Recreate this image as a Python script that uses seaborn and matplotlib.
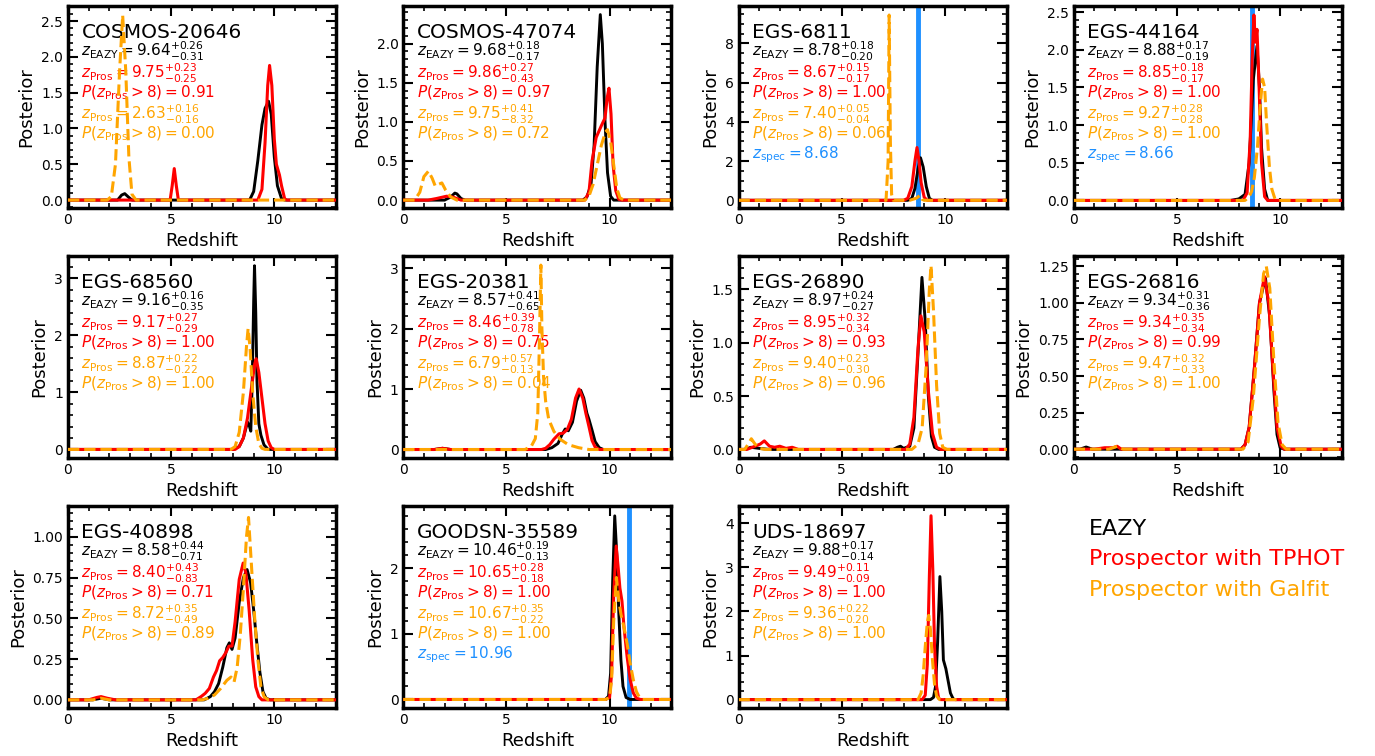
import matplotlib
matplotlib.use("Agg")
import matplotlib.pyplot as plt
from matplotlib.ticker import MultipleLocator, AutoMinorLocator
import pandas as pd
import seaborn as sns

# -- per-object summary numbers --
names = ["COSMOS-20646", "COSMOS-47074", "EGS-6811", "EGS-44164",
         "EGS-68560", "EGS-20381", "EGS-26890", "EGS-26816",
         "EGS-40898", "GOODSN-35589", "UDS-18697"]
eazy_z = [9.64, 9.68, 8.78, 8.88, 9.16, 8.57, 8.97, 9.34, 8.58, 10.46, 9.88]
eazy_up = [0.26, 0.18, 0.18, 0.17, 0.16, 0.41, 0.24, 0.31, 0.44, 0.19, 0.17]
eazy_lo = [0.31, 0.17, 0.20, 0.19, 0.35, 0.65, 0.27, 0.36, 0.71, 0.13, 0.14]
tphot_z = [9.75, 9.86, 8.67, 8.85, 9.17, 8.46, 8.95, 9.34, 8.40, 10.65, 9.49]
tphot_up = [0.23, 0.27, 0.15, 0.18, 0.27, 0.39, 0.32, 0.35, 0.43, 0.28, 0.11]
tphot_lo = [0.25, 0.43, 0.17, 0.17, 0.29, 0.78, 0.34, 0.34, 0.83, 0.18, 0.09]
tphot_p8 = [0.91, 0.97, 1.00, 1.00, 1.00, 0.75, 0.93, 0.99, 0.71, 1.00, 1.00]
galfit_z = [2.63, 9.75, 7.40, 9.27, 8.87, 6.79, 9.40, 9.47, 8.72, 10.67, 9.36]
galfit_up = [0.16, 0.41, 0.05, 0.28, 0.22, 0.57, 0.23, 0.32, 0.35, 0.35, 0.22]
galfit_lo = [0.16, 8.32, 0.04, 0.28, 0.22, 0.13, 0.30, 0.33, 0.49, 0.22, 0.20]
galfit_p8 = [0.00, 0.72, 0.06, 1.00, 1.00, 0.04, 0.96, 1.00, 0.89, 1.00, 1.00]
zspec = [None, None, 8.68, 8.66, None, None, None, None, None, 10.96, None]

ystep = [0.5, 0.5, 2, 0.5, 1, 1, 0.5, 0.25, 0.25, 1, 1]
ylims = [(-0.11, 2.71), (-0.10, 2.48), (-0.39, 9.91), (-0.10, 2.58),
         (-0.15, 3.39), (-0.14, 3.20), (-0.08, 1.81), (-0.06, 1.32),
         (-0.05, 1.19), (-0.13, 2.95), (-0.19, 4.39)]

# -- posterior curves, (redshift, posterior) pairs --
eazy_01 = [(0, 0), (2.4, 0), (2.6, 0.07), (2.75, 0.09), (2.9, 0.05), (3.1, 0), (8.8, 0), (9.0, 0.12),
           (9.2, 0.55), (9.4, 1.05), (9.55, 1.28), (9.72, 1.38), (9.85, 1.2), (10.0, 0.6),
           (10.15, 0.2), (10.35, 0.02), (10.5, 0), (13, 0)]
tphot_01 = [(0, 0), (4.95, 0), (5.05, 0.2), (5.15, 0.44), (5.25, 0.2), (5.35, 0), (9.2, 0), (9.4, 0.15),
            (9.55, 0.8), (9.68, 1.6), (9.77, 1.88), (9.88, 1.6), (10.0, 0.85), (10.1, 0.5),
            (10.25, 0.35), (10.35, 0.2), (10.5, 0.02), (10.6, 0), (13, 0)]
galfit_01 = [(0, 0), (1.9, 0), (2.1, 0.05), (2.3, 0.5), (2.5, 1.8), (2.65, 2.58), (2.8, 1.8),
             (2.95, 0.6), (3.1, 0.08), (3.3, 0), (13, 0)]

eazy_02 = [(0, 0), (2.0, 0), (2.3, 0.04), (2.5, 0.09), (2.6, 0.08), (2.8, 0.02), (3.0, 0), (8.7, 0),
           (8.9, 0.04), (9.1, 0.2), (9.25, 0.7), (9.4, 1.7), (9.55, 2.37), (9.65, 2.0), (9.78, 1.0),
           (9.9, 0.35), (10.05, 0.05), (10.2, 0), (13, 0)]
tphot_02 = [(0, 0), (1.2, 0), (1.6, 0.02), (2.1, 0.05), (2.4, 0.04), (2.8, 0), (8.8, 0), (9.0, 0.1),
            (9.15, 0.5), (9.35, 0.8), (9.6, 0.95), (9.78, 1.05), (9.88, 1.3), (9.97, 1.43),
            (10.07, 1.1), (10.17, 0.45), (10.3, 0.12), (10.45, 0.01), (10.6, 0), (13, 0)]
galfit_02 = [(0, 0), (0.55, 0), (0.8, 0.1), (1.0, 0.3), (1.22, 0.37), (1.4, 0.28), (1.55, 0.18),
             (1.7, 0.2), (1.87, 0.22), (2.05, 0.13), (2.3, 0.04), (2.6, 0), (8.8, 0), (9.0, 0.05),
             (9.2, 0.2), (9.4, 0.45), (9.6, 0.7), (9.8, 0.87), (9.9, 0.9), (10.05, 0.75),
             (10.2, 0.45), (10.35, 0.15), (10.5, 0.03), (10.7, 0), (13, 0)]

eazy_03 = [(0, 0), (8.2, 0), (8.4, 0.1), (8.55, 0.6), (8.7, 1.6), (8.82, 2.17), (8.95, 1.7),
           (9.1, 0.7), (9.25, 0.1), (9.4, 0), (13, 0)]
tphot_03 = [(0, 0), (8.0, 0), (8.2, 0.1), (8.4, 0.7), (8.55, 2.0), (8.65, 2.69), (8.75, 2.0),
            (8.85, 0.9), (9.0, 0.15), (9.15, 0), (13, 0)]
galfit_03 = [(0, 0), (7.15, 0), (7.25, 2.0), (7.3, 9.45), (7.36, 3.0), (7.42, 0.3), (7.5, 0),
             (8.3, 0), (8.6, 0.1), (8.8, 0.25), (8.9, 0.05), (9.0, 0), (13, 0)]

eazy_04 = [(0, 0), (7.6, 0), (8.0, 0.02), (8.3, 0.08), (8.5, 0.5), (8.7, 1.6), (8.88, 2.05),
           (9.0, 1.5), (9.1, 0.7), (9.25, 0.15), (9.4, 0), (13, 0)]
tphot_04 = [(0, 0), (8.2, 0), (8.4, 0.1), (8.55, 0.8), (8.65, 1.9), (8.73, 2.46), (8.8, 2.1),
            (8.88, 2.27), (8.97, 1.6), (9.1, 0.5), (9.25, 0.05), (9.4, 0), (13, 0)]
galfit_04 = [(0, 0), (8.3, 0), (8.5, 0.05), (8.62, 0.12), (8.75, 0.3), (8.9, 0.7), (9.05, 1.3),
             (9.15, 1.61), (9.25, 1.5), (9.35, 1.0), (9.48, 0.45), (9.6, 0.15), (9.75, 0.02),
             (9.9, 0), (13, 0)]

eazy_05 = [(0, 0), (8.0, 0), (8.3, 0.05), (8.5, 0.2), (8.7, 0.48), (8.8, 0.4), (8.86, 0.32),
           (8.93, 1.2), (9.0, 2.6), (9.04, 3.22), (9.1, 2.4), (9.16, 1.2), (9.25, 0.45),
           (9.35, 0.25), (9.5, 0.08), (9.7, 0), (13, 0)]
tphot_05 = [(0, 0), (8.1, 0), (8.3, 0.05), (8.5, 0.2), (8.7, 0.55), (8.9, 1.1), (9.05, 1.5),
            (9.12, 1.59), (9.25, 1.35), (9.4, 0.9), (9.55, 0.45), (9.7, 0.15), (9.85, 0.03),
            (10.0, 0), (13, 0)]
galfit_05 = [(0, 0), (7.9, 0), (8.1, 0.05), (8.3, 0.3), (8.5, 1.0), (8.65, 1.8), (8.73, 2.12),
             (8.82, 1.8), (8.95, 1.0), (9.1, 0.4), (9.25, 0.1), (9.4, 0.02), (9.55, 0), (13, 0)]

eazy_06 = [(0, 0), (1.5, 0), (1.9, 0.02), (2.3, 0), (6.9, 0), (7.2, 0.03), (7.5, 0.1), (7.7, 0.25),
           (7.85, 0.34), (8.0, 0.31), (8.2, 0.45), (8.4, 0.8), (8.6, 0.98), (8.75, 0.85),
           (8.9, 0.6), (9.0, 0.5), (9.15, 0.32), (9.3, 0.13), (9.5, 0.03), (9.7, 0), (13, 0)]
tphot_06 = [(0, 0), (1.5, 0), (1.9, 0.02), (2.3, 0), (6.7, 0), (6.9, 0.02), (7.1, 0.08),
            (7.3, 0.17), (7.55, 0.26), (7.75, 0.27), (7.95, 0.33), (8.15, 0.5), (8.35, 0.85),
            (8.52, 1.0), (8.7, 0.85), (8.85, 0.6), (9.0, 0.38), (9.15, 0.15), (9.3, 0.04),
            (9.5, 0), (13, 0)]
galfit_06 = [(0, 0), (5.9, 0), (6.2, 0.05), (6.4, 0.18), (6.52, 0.6), (6.6, 1.8), (6.67, 3.05),
             (6.72, 2.0), (6.8, 1.2), (6.9, 0.8), (7.05, 0.5), (7.3, 0.3), (7.6, 0.17),
             (8.0, 0.08), (8.5, 0.03), (9.0, 0), (13, 0)]

eazy_07 = [(0, 0), (0.3, 0), (0.6, 0.02), (1.0, 0.01), (1.5, 0), (7.5, 0), (7.7, 0.02), (7.85, 0.03),
           (8.0, 0.01), (8.3, 0.03), (8.5, 0.2), (8.7, 0.9), (8.89, 1.61), (9.05, 1.2), (9.2, 0.5),
           (9.35, 0.12), (9.5, 0.02), (9.7, 0), (13, 0)]
tphot_07 = [(0, 0), (0.4, 0), (0.8, 0.03), (1.05, 0.05), (1.25, 0.08), (1.5, 0.03), (1.75, 0.02),
            (2.0, 0.03), (2.3, 0.01), (2.6, 0.02), (2.9, 0), (8.1, 0), (8.3, 0.05), (8.5, 0.3),
            (8.7, 0.95), (8.84, 1.25), (9.0, 1.1), (9.2, 0.55), (9.4, 0.15), (9.6, 0.02),
            (9.8, 0), (13, 0)]
galfit_07 = [(0, 0), (0.3, 0), (0.5, 0.06), (0.62, 0.1), (0.8, 0.05), (1.0, 0.01), (1.3, 0),
             (8.4, 0), (8.7, 0.05), (8.9, 0.2), (9.1, 0.8), (9.25, 1.5), (9.33, 1.72),
             (9.45, 1.3), (9.6, 0.6), (9.75, 0.15), (9.9, 0.02), (10.1, 0), (13, 0)]

eazy_08 = [(0, 0), (0.3, 0), (0.6, 0.015), (0.9, 0), (8.1, 0), (8.3, 0.03), (8.5, 0.15),
           (8.75, 0.55), (9.0, 1.0), (9.29, 1.17), (9.5, 0.9), (9.7, 0.4), (9.85, 0.1),
           (10.0, 0.01), (10.2, 0), (13, 0)]
tphot_08 = [(0, 0), (1.0, 0), (1.5, 0.01), (1.9, 0.01), (2.1, 0.02), (2.3, 0), (8.1, 0),
            (8.3, 0.03), (8.5, 0.15), (8.75, 0.55), (9.0, 1.0), (9.24, 1.18), (9.45, 1.0),
            (9.65, 0.55), (9.85, 0.15), (10.05, 0.02), (10.2, 0), (13, 0)]
galfit_08 = [(0, 0), (1.7, 0), (2.1, 0.02), (2.4, 0), (8.2, 0), (8.45, 0.05), (8.7, 0.35),
             (9.0, 0.9), (9.2, 1.2), (9.33, 1.25), (9.5, 1.1), (9.7, 0.6), (9.9, 0.18),
             (10.1, 0.03), (10.3, 0), (13, 0)]

eazy_09 = [(0, 0), (1.2, 0), (1.6, 0.01), (2.0, 0), (6.6, 0), (6.9, 0.02), (7.1, 0.05), (7.3, 0.1),
           (7.5, 0.2), (7.7, 0.32), (7.82, 0.35), (7.95, 0.31), (8.1, 0.38), (8.3, 0.6),
           (8.5, 0.75), (8.68, 0.8), (8.85, 0.72), (9.0, 0.55), (9.15, 0.35), (9.3, 0.17),
           (9.45, 0.05), (9.6, 0.01), (9.8, 0), (13, 0)]
tphot_09 = [(0, 0), (1.0, 0), (1.4, 0.015), (1.6, 0.02), (1.9, 0.01), (2.3, 0), (6.2, 0),
            (6.45, 0.02), (6.65, 0.04), (6.85, 0.07), (7.05, 0.14), (7.2, 0.18), (7.35, 0.24),
            (7.5, 0.26), (7.65, 0.29), (7.8, 0.33), (7.95, 0.33), (8.1, 0.48), (8.3, 0.74),
            (8.49, 0.84), (8.62, 0.78), (8.78, 0.55), (8.95, 0.25), (9.1, 0.08), (9.25, 0.02),
            (9.4, 0), (13, 0)]
galfit_09 = [(0, 0), (1.2, 0), (1.6, 0.01), (2.0, 0), (6.5, 0), (6.8, 0.01), (7.1, 0.03),
             (7.4, 0.07), (7.7, 0.12), (7.9, 0.14), (8.05, 0.11), (8.2, 0.2), (8.35, 0.4),
             (8.5, 0.68), (8.65, 1.0), (8.75, 1.12), (8.88, 0.85), (9.05, 0.5), (9.2, 0.25),
             (9.35, 0.08), (9.5, 0.02), (9.7, 0), (13, 0)]

eazy_10 = [(0, 0), (9.8, 0), (9.95, 0.05), (10.05, 0.4), (10.15, 1.8), (10.25, 2.8), (10.35, 2.2),
           (10.45, 1.3), (10.55, 0.6), (10.65, 0.2), (10.8, 0.03), (11.0, 0), (13, 0)]
tphot_10 = [(0, 0), (9.8, 0), (10.0, 0.03), (10.1, 0.4), (10.2, 1.6), (10.32, 2.34), (10.42, 2.0),
            (10.5, 1.7), (10.6, 1.5), (10.7, 1.1), (10.85, 0.65), (11.0, 0.3), (11.15, 0.1),
            (11.3, 0.02), (11.5, 0), (13, 0)]
galfit_10 = [(0, 0), (9.8, 0), (10.0, 0.03), (10.1, 0.3), (10.2, 1.2), (10.33, 1.86), (10.45, 1.5),
             (10.55, 1.3), (10.7, 1.1), (10.85, 0.85), (11.0, 0.55), (11.15, 0.3), (11.3, 0.12),
             (11.45, 0.03), (11.6, 0), (13, 0)]

eazy_11 = [(0, 0), (9.3, 0), (9.45, 0.05), (9.55, 0.3), (9.65, 1.3), (9.76, 2.79), (9.85, 2.0),
           (9.93, 0.9), (10.05, 0.7), (10.15, 0.45), (10.27, 0.15), (10.4, 0.02), (10.5, 0), (13, 0)]
tphot_11 = [(0, 0), (8.9, 0), (9.05, 0.1), (9.15, 0.8), (9.25, 2.8), (9.33, 4.17), (9.42, 2.9),
            (9.5, 1.2), (9.6, 0.3), (9.7, 0.03), (9.8, 0), (13, 0)]
galfit_11 = [(0, 0), (8.7, 0), (8.85, 0.15), (8.95, 0.55), (9.05, 1.2), (9.15, 1.75), (9.22, 1.91),
             (9.3, 1.6), (9.4, 0.9), (9.5, 0.35), (9.6, 0.08), (9.75, 0), (13, 0)]

eazy_curves = [eazy_01, eazy_02, eazy_03, eazy_04, eazy_05, eazy_06,
               eazy_07, eazy_08, eazy_09, eazy_10, eazy_11]
tphot_curves = [tphot_01, tphot_02, tphot_03, tphot_04, tphot_05, tphot_06,
                tphot_07, tphot_08, tphot_09, tphot_10, tphot_11]
galfit_curves = [galfit_01, galfit_02, galfit_03, galfit_04, galfit_05, galfit_06,
                 galfit_07, galfit_08, galfit_09, galfit_10, galfit_11]

sns.set_style("ticks")
plt.rcParams.update({
    "font.family": ["DejaVu Sans"],
    "axes.linewidth": 2.5,
    "axes.edgecolor": "black",
    "axes.labelcolor": "black",
    "text.color": "black",
    "xtick.color": "black",
    "ytick.color": "black",
    "xtick.direction": "in",
    "ytick.direction": "in",
    "xtick.top": True,
    "ytick.right": True,
    "xtick.major.size": 7,
    "ytick.major.size": 7,
    "xtick.minor.size": 3.5,
    "ytick.minor.size": 3.5,
    "xtick.major.width": 1.5,
    "ytick.major.width": 1.5,
    "xtick.minor.width": 1.2,
    "ytick.minor.width": 1.2,
    "xtick.labelsize": 10,
    "ytick.labelsize": 10,
    "axes.labelsize": 13,
    "mathtext.fontset": "dejavusans",
})

fig, axes = plt.subplots(3, 4, figsize=(13.75, 7.56), dpi=100)
fig.subplots_adjust(left=68 / 1375, right=1342 / 1375, top=1 - 6 / 756,
                    bottom=1 - 708 / 756, wspace=0.25, hspace=0.238)
axes = axes.ravel()


def curve_df(points):
    return pd.DataFrame(points, columns=["z", "p"])


for i, ax in enumerate(axes[:11]):
    if zspec[i] is not None:
        ax.axvline(zspec[i], color="dodgerblue", lw=3.5, zorder=1)
    d = curve_df(eazy_curves[i])
    sns.lineplot(data=d, x="z", y="p", ax=ax, color="black", lw=2.1, zorder=2)
    d = curve_df(tphot_curves[i])
    sns.lineplot(data=d, x="z", y="p", ax=ax, color="red", lw=2.2, zorder=3)
    d = curve_df(galfit_curves[i])
    sns.lineplot(data=d, x="z", y="p", ax=ax, color="orange", lw=2.2,
                 linestyle="--", zorder=4)

    ax.set_xlim(0, 13)
    ax.set_ylim(*ylims[i])
    ax.xaxis.set_major_locator(MultipleLocator(5))
    ax.xaxis.set_minor_locator(AutoMinorLocator())
    ax.yaxis.set_major_locator(MultipleLocator(ystep[i]))
    ax.yaxis.set_minor_locator(AutoMinorLocator())
    ax.set_xlabel("Redshift")
    ax.set_ylabel("Posterior")

    tr = ax.transAxes
    ax.text(0.05, 0.844, names[i], transform=tr, fontsize=14.5, va="baseline")
    ax.text(0.05, 0.748,
            rf"$z_{{\mathrm{{EAZY}}}} = {eazy_z[i]:.2f}^{{+{eazy_up[i]:.2f}}}_{{-{eazy_lo[i]:.2f}}}$",
            transform=tr, fontsize=11, color="black", va="baseline")
    ax.text(0.05, 0.643,
            rf"$z_{{\mathrm{{Pros}}}} = {tphot_z[i]:.2f}^{{+{tphot_up[i]:.2f}}}_{{-{tphot_lo[i]:.2f}}}$",
            transform=tr, fontsize=11, color="red", va="baseline")
    ax.text(0.05, 0.550, rf"$P(z_{{\mathrm{{Pros}}}} > 8) = {tphot_p8[i]:.2f}$",
            transform=tr, fontsize=11, color="red", va="baseline")
    ax.text(0.05, 0.438,
            rf"$z_{{\mathrm{{Pros}}}} = {galfit_z[i]:.2f}^{{+{galfit_up[i]:.2f}}}_{{-{galfit_lo[i]:.2f}}}$",
            transform=tr, fontsize=11, color="orange", va="baseline")
    ax.text(0.05, 0.346, rf"$P(z_{{\mathrm{{Pros}}}} > 8) = {galfit_p8[i]:.2f}$",
            transform=tr, fontsize=11, color="orange", va="baseline")
    if zspec[i] is not None:
        ax.text(0.05, 0.245, rf"$z_{{\mathrm{{spec}}}} = {zspec[i]:.2f}$",
                transform=tr, fontsize=11, color="dodgerblue", va="baseline")

# last slot holds the colour key
key = axes[11]
key.axis("off")
key.text(0.056, 0.886, "EAZY", color="black", fontsize=16, va="center", transform=key.transAxes)
key.text(0.056, 0.736, "Prospector with TPHOT", color="red", fontsize=16, va="center",
         transform=key.transAxes)
key.text(0.056, 0.582, "Prospector with Galfit", color="orange", fontsize=16, va="center",
         transform=key.transAxes)

plt.savefig("out.png", dpi=100)
plt.close()
